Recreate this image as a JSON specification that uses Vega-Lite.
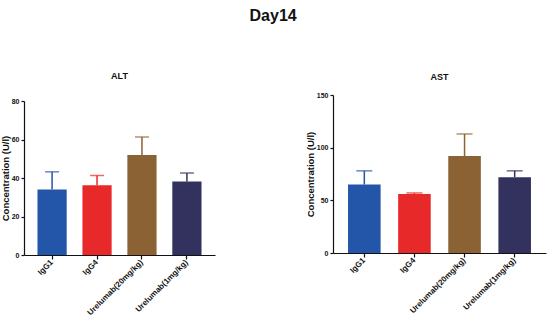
{
  "$schema": "https://vega.github.io/schema/vega-lite/v6.json",
  "background": "white",
  "padding": {"left": 0, "top": 8, "right": 5, "bottom": 2},
  "title": {"text": "Day14", "fontSize": 16, "font": "Liberation Sans", "fontWeight": "bold", "anchor": "middle", "offset": 48, "color": "#111"},
  "datasets": {
    "alt": [
      {"group": "IgG1", "value": 34, "upper": 43.2},
      {"group": "IgG4", "value": 36.2, "upper": 41.3},
      {"group": "Urelumab(20mg/kg)", "value": 52, "upper": 61.3},
      {"group": "Urelumab(1mg/kg)", "value": 38.2, "upper": 42.6}
    ],
    "ast": [
      {"group": "IgG1", "value": 65, "upper": 78},
      {"group": "IgG4", "value": 56, "upper": 57},
      {"group": "Urelumab(20mg/kg)", "value": 92, "upper": 113},
      {"group": "Urelumab(1mg/kg)", "value": 72, "upper": 78}
    ]
  },
  "config": {
    "view": {"stroke": null},
    "font": "Liberation Sans",
    "axis": {"grid": false, "domainColor": "#111", "tickColor": "#111", "labelColor": "#111", "titleColor": "#111", "labelFont": "Liberation Sans", "titleFont": "Liberation Sans", "labelFontWeight": "bold", "titleFontWeight": "bold", "labelFontSize": 7, "titleFontSize": 9.5, "domainWidth": 1.2, "tickWidth": 1.2, "tickSize": 3, "labelOverlap": false, "labelBound": false, "labelSeparation": 0},
    "axisX": {"labelFontSize": 8},
    "title": {"font": "Liberation Sans"},
    "concat": {"spacing": 90}
  },
  "hconcat": [
    {
      "width": 191,
      "height": 160,
      "title": {"text": "ALT", "fontSize": 9, "fontWeight": "bold", "offset": 14, "color": "#111"},
      "data": {"name": "alt"},
      "encoding": {
        "x": {"field": "group", "type": "nominal", "sort": null, "title": null,
              "scale": {"paddingInner": 0.35, "paddingOuter": 0.3},
              "axis": {"labelAngle": -45, "labelAlign": "right", "labelBaseline": "middle", "tickSize": 4, "labelPadding": 2}},
        "y": {"field": "value", "type": "quantitative", "title": "Concentration (U/l)",
              "scale": {"domain": [0, 80], "nice": false, "range": [160, 6]},
              "axis": {"values": [0, 20, 40, 60, 80], "labelOverlap": false, "titlePadding": 1}},
        "color": {"field": "group", "type": "nominal", "sort": null, "legend": null,
                  "scale": {"domain": ["IgG1", "IgG4", "Urelumab(20mg/kg)", "Urelumab(1mg/kg)"], "range": ["#2356a8", "#e8292a", "#8a6233", "#33325e"]}}
      },
      "layer": [
        {"mark": {"type": "bar"}},
        {"mark": {"type": "rule", "strokeWidth": 1.5}, "encoding": {"y2": {"field": "upper"}}},
        {"mark": {"type": "tick", "thickness": 1.5, "size": 14}, "encoding": {"y": {"field": "upper", "type": "quantitative", "title": "Concentration (U/l)",
          "axis": {"values": [0, 20, 40, 60, 80], "labelOverlap": false, "titlePadding": 1}}}}
      ]
    },
    {
      "width": 213,
      "height": 158,
      "title": {"text": "AST", "fontSize": 9, "fontWeight": "bold", "offset": 9, "color": "#111"},
      "data": {"name": "ast"},
      "encoding": {
        "x": {"field": "group", "type": "nominal", "sort": null, "title": null,
              "scale": {"paddingInner": 0.35, "paddingOuter": 0.3},
              "axis": {"labelAngle": -45, "labelAlign": "right", "labelBaseline": "middle", "tickSize": 4, "labelPadding": 2}},
        "y": {"field": "value", "type": "quantitative", "title": "Concentration (U/l)",
              "scale": {"domain": [0, 150], "nice": false},
              "axis": {"values": [0, 50, 100, 150], "labelOverlap": false, "titlePadding": 1}},
        "color": {"field": "group", "type": "nominal", "sort": null, "legend": null,
                  "scale": {"domain": ["IgG1", "IgG4", "Urelumab(20mg/kg)", "Urelumab(1mg/kg)"], "range": ["#2356a8", "#e8292a", "#8a6233", "#33325e"]}}
      },
      "layer": [
        {"mark": {"type": "bar"}},
        {"mark": {"type": "rule", "strokeWidth": 1.5}, "encoding": {"y2": {"field": "upper"}}},
        {"mark": {"type": "tick", "thickness": 1.5, "size": 16}, "encoding": {"y": {"field": "upper", "type": "quantitative", "title": "Concentration (U/l)",
          "axis": {"values": [0, 50, 100, 150], "labelOverlap": false, "titlePadding": 1}}}}
      ]
    }
  ]
}
